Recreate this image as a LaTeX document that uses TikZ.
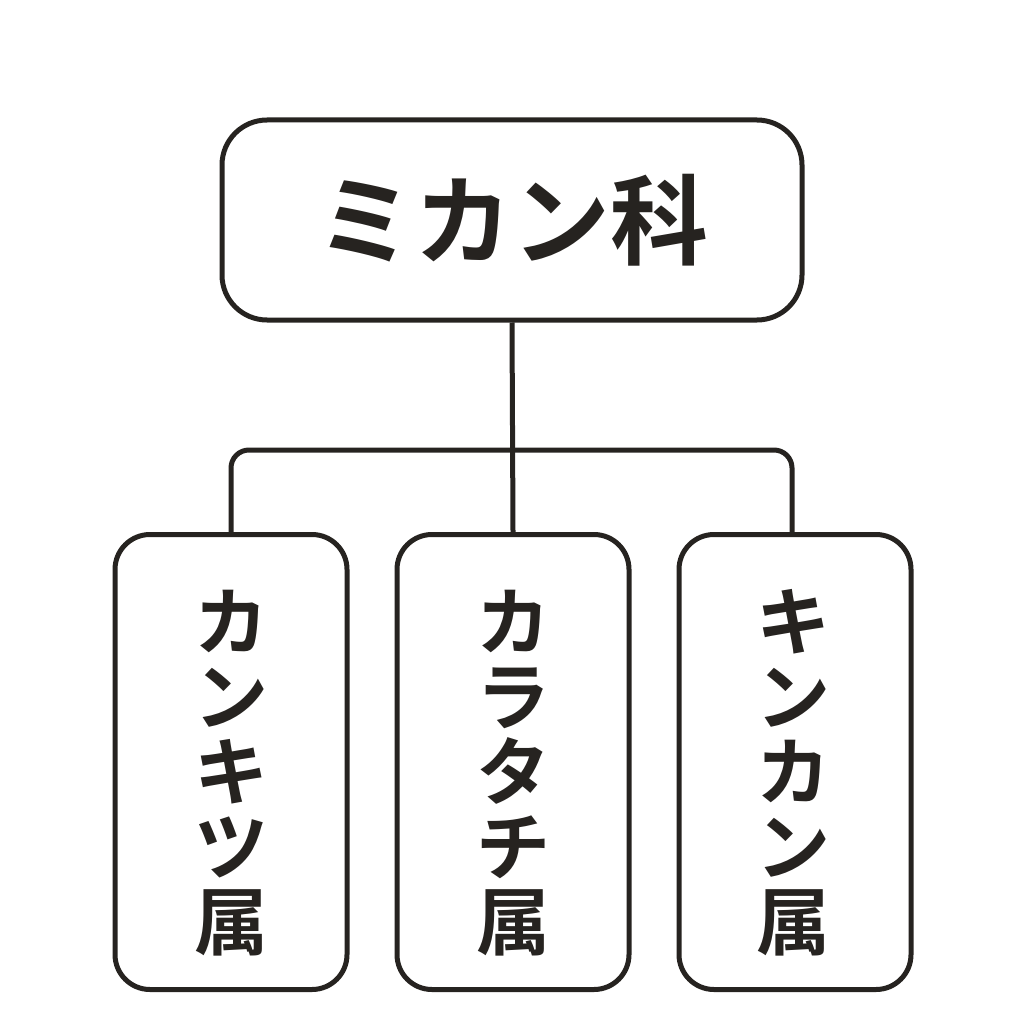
\documentclass[tikz,border=0pt]{standalone}
\usepackage{fontspec}
\newfontfamily\jpfont{Noto Sans CJK JP}[BoldFont={Noto Sans CJK JP Bold}]
\usetikzlibrary{positioning}

\tikzset{every picture/.style={line width=5pt}}
\tikzset{
  famBox/.style={draw={rgb,255:red,38;green,35;blue,32}, rounded corners=45, minimum width=580, minimum height=200, font=\jpfont\bfseries\fontsize{98}{98}\selectfont, inner sep=0},
  genusBox/.style={draw={rgb,255:red,38;green,35;blue,32}, rounded corners=35, minimum width=232, minimum height=455, inner sep=0},
  genusText/.style={align=center, font=\jpfont\bfseries\fontsize{74}{75}\selectfont, inner sep=0, text={rgb,255:red,38;green,35;blue,32}},
  link/.style={draw={rgb,255:red,38;green,35;blue,32}, rounded corners=18}
}

\begin{document}
\begin{tikzpicture}[x=1pt,y=1pt,yscale=-1,xscale=1]
\useasboundingbox (0,0) rectangle (1024,1024);

%Shape: Rounded Rect [family]
\node [famBox, text={rgb,255:red,38;green,35;blue,32}] (family) at (512,220) {ミカン科};

%Shape: Rounded Rect [genera]
\node [genusBox] (kankitsu) at (231,762) {};
\node [genusBox] (karatachi) at (513,762) {};
\node [genusBox] (kinkan) at (795,762) {};

% Text Node
\node [genusText] (kankitsuText) at (231,773) {カ\\ン\\キ\\ツ\\属};
% Text Node
\node [genusText] (karatachiText) at (513,773) {カ\\ラ\\タ\\チ\\属};
% Text Node
\node [genusText] (kinkanText) at (793,773) {キ\\ン\\カ\\ン\\属};

%Straight Lines
\coordinate (bar) at (512,450);
\draw [link] (family.south) -- (karatachi.north);
\draw [link] (kankitsu.north) |- (bar) -| ([xshift=-3]kinkan.north);

\end{tikzpicture}
\end{document}
